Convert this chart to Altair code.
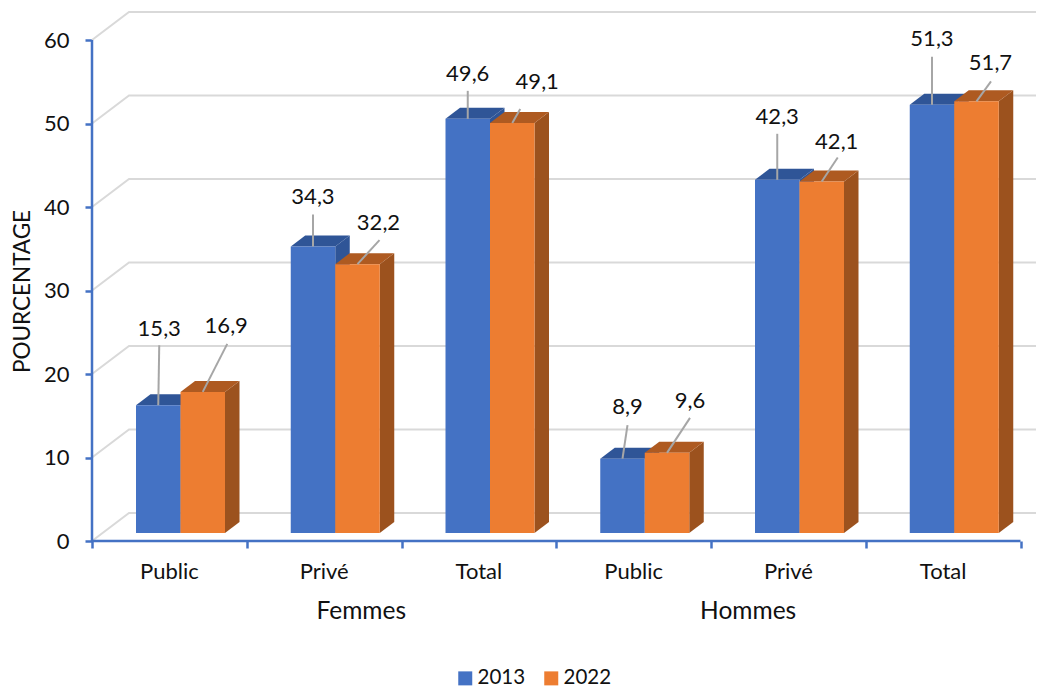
import altair as alt
import pandas as pd

groups = ["Femmes", "Hommes"]
sectors = ["Public", "Privé", "Total", "Public", "Privé", "Total"]
v2013 = [15.3, 34.3, 49.6, 8.9, 42.3, 51.3]
v2022 = [16.9, 32.2, 49.1, 9.6, 42.1, 51.7]
lab2013 = ["15,3", "34,3", "49,6", "8,9", "42,3", "51,3"]
lab2022 = ["16,9", "32,2", "49,1", "9,6", "42,1", "51,7"]
ticks_y = [0, 10, 20, 30, 40, 50, 60]

# callout offsets (pixels from the top-centre of each bar)
lead_dx_2013 = [1, 0, 0, 5, 0, 0]
lead_rise_2013 = [60, 32, 28, 33.5, 46, 48]
lab_dx_2013 = [1, 0, 0, 5, 0, 0]
lab_rise_2013 = [76, 50, 45, 51.5, 63, 65.6]
lead_dx_2022 = [24.5, 22, 8, 23, 16, 14.5]
lead_rise_2022 = [48, 24, 14, 35, 24, 20]
lab_dx_2022 = [23.5, 21, 25, 23, 15, 14]
lab_rise_2022 = [65.5, 41.5, 41, 51.6, 39.6, 38]

BLUE, ORANGE = "#4472c4", "#ed7d31"
BLUE_D, ORANGE_D = "#2f5597", "#9c521e"
ORANGE_T = "#ae5a21"
GRID = "#d9d9d9"
TXT = "#111111"
FONT = "Lato"
FS = 22

# geometry
PX = 8.35          # pixels per percentage point
SLOT = 154.75
HEIGHT = 530
WIDTH = 944
OFF_X, OFF_Y = 37, 28       # back wall offset
BAR0 = 44                   # first bar offset from axis
BAR_W = 44.5
DEPTH_X, DEPTH_Y = 14.5, 11
BASE = 8                    # bar plane lift in px


def yv(px_up):
    return px_up / PX


x_scale = alt.Scale(domain=[0, WIDTH], nice=False, zero=False)
y_scale = alt.Scale(domain=[0, HEIGHT / PX], nice=False, zero=False)

fronts, sides, tops, leads, labels = [], [], [], [], []
series = [
    ("2013", 0, v2013, lab2013, lead_dx_2013, lead_rise_2013, lab_dx_2013, lab_rise_2013),
    ("2022", 1, v2022, lab2022, lead_dx_2022, lead_rise_2022, lab_dx_2022, lab_rise_2022),
]
for year, k, vals, labs, ldx, lr, tdx, tr in series:
    for i, v in enumerate(vals):
        x0 = BAR0 + SLOT * i + BAR_W * k
        x1 = x0 + BAR_W
        b = yv(BASE)
        t = v + b
        d = yv(DEPTH_Y)
        key = f"{year}-{i}"
        fronts.append(dict(year=year, x=x0, x2=x1, y=t, y2=b))
        sides += [
            dict(year=year, key=key, x=x1, y=t, y2=b),
            dict(year=year, key=key, x=x1 + DEPTH_X, y=t + d, y2=b + d),
        ]
        tops += [
            dict(year=year, key=key, x=x0, y=t, y2=t),
            dict(year=year, key=key, x=x0 + DEPTH_X, y=t + d, y2=t),
            dict(year=year, key=key, x=x1, y=t + d, y2=t),
            dict(year=year, key=key, x=x1 + DEPTH_X, y=t + d, y2=t + d),
        ]
        cx = (x0 + x1) / 2
        leads.append(dict(x=cx, y=t, x2=cx + ldx[i], y2=t + yv(lr[i])))
        labels.append(dict(x=cx + tdx[i], y=t + yv(tr[i]), text=labs[i]))

fronts, sides, tops = map(pd.DataFrame, (fronts, sides, tops))
leads, labels = map(pd.DataFrame, (leads, labels))

x_axis = alt.Axis(
    values=[SLOT * i for i in range(7)],
    labels=False,
    title=None,
    domain=False,
    grid=False,
    tickColor=BLUE,
    tickWidth=2.5,
    tickSize=7,
)
y_axis = alt.Axis(
    values=ticks_y,
    title="POURCENTAGE",
    titleFont=FONT,
    titleFontSize=22.5,
    titleFontWeight="normal",
    titleColor=TXT,
    titleX=-58,
    titleY=280,
    domain=False,
    grid=False,
    tickColor=BLUE,
    tickWidth=2.5,
    tickSize=7,
    labelFont=FONT,
    labelFontSize=FS,
    labelColor=TXT,
    labelPadding=16,
)
X = alt.X("x:Q", scale=x_scale, axis=x_axis)
Y = alt.Y("y:Q", scale=y_scale, axis=y_axis)

# wall grid: diagonal from the axis, then along the back wall
grid_rows = []
for g in ticks_y:
    grid_rows += [
        dict(g=g, x=0, y=g),
        dict(g=g, x=OFF_X, y=g + yv(OFF_Y)),
        dict(g=g, x=WIDTH, y=g + yv(OFF_Y)),
    ]
grid = alt.Chart(pd.DataFrame(grid_rows)).mark_line(color=GRID, strokeWidth=2).encode(
    x=X, y=Y, detail="g:N"
)

axis_y = alt.Chart(pd.DataFrame({"x": [0], "y": [0], "y2": [ticks_y[-1]]})).mark_rule(
    color=BLUE, strokeWidth=2.5
).encode(x=X, y=Y, y2="y2:Q")
axis_x = alt.Chart(pd.DataFrame({"x": [0], "x2": [SLOT * 6], "y": [0]})).mark_rule(
    color=BLUE, strokeWidth=2.5
).encode(x=X, x2="x2:Q", y=Y)


def face(df, year, color):
    return alt.Chart(df[df.year == year]).mark_area(color=color, orient="vertical").encode(
        x=X, y=Y, y2="y2:Q", detail="key:N"
    )


front = alt.Chart(fronts).mark_rect().encode(
    x=X,
    x2="x2:Q",
    y=Y,
    y2="y2:Q",
    color=alt.Color(
        "year:N",
        scale=alt.Scale(domain=["2013", "2022"], range=[BLUE, ORANGE]),
        legend=alt.Legend(
            title=None,
            orient="none",
            direction="horizontal",
            legendX=363,
            legendY=657,
            symbolType="square",
            symbolSize=196,
            symbolStrokeWidth=0,
            labelFont=FONT,
            labelFontSize=20.5,
            labelColor=TXT,
            labelOffset=2,
            columnPadding=15,
        ),
    ),
)

leader = alt.Chart(leads).mark_rule(color="#a6a6a6", strokeWidth=2).encode(
    x=X, x2="x2:Q", y=Y, y2="y2:Q"
)
label = alt.Chart(labels).mark_text(
    font=FONT, fontSize=FS, color=TXT, baseline="middle", align="center"
).encode(x=X, y=Y, text="text:N")

cat_df = pd.DataFrame({"x": [SLOT * (i + 0.5) for i in range(6)], "y": [0] * 6, "text": sectors})
cats = alt.Chart(cat_df).mark_text(
    font=FONT, fontSize=FS, color=TXT, baseline="middle", dy=31
).encode(x=X, y=Y, text="text:N")

grp_df = pd.DataFrame({"x": [SLOT * 1.74, SLOT * 4.24], "y": [0, 0], "text": groups})
grps = alt.Chart(grp_df).mark_text(
    font=FONT, fontSize=24.5, color=TXT, baseline="middle", dy=71
).encode(x=X, y=Y, text="text:N")

chart = alt.layer(
    grid,
    axis_y,
    axis_x,
    face(sides, "2013", BLUE_D),
    face(tops, "2013", BLUE_D),
    face(sides, "2022", ORANGE_D),
    face(tops, "2022", ORANGE_T),
    front,
    leader,
    label,
    cats,
    grps,
).properties(
    width=WIDTH,
    height=HEIGHT,
    padding={"left": 84, "top": 3, "right": 0, "bottom": 147},
    autosize=alt.AutoSizeParams(type="none"),
    background="white",
).configure_view(stroke=None)

chart.save("out.html", embed_options={"renderer": "svg", "actions": False})
